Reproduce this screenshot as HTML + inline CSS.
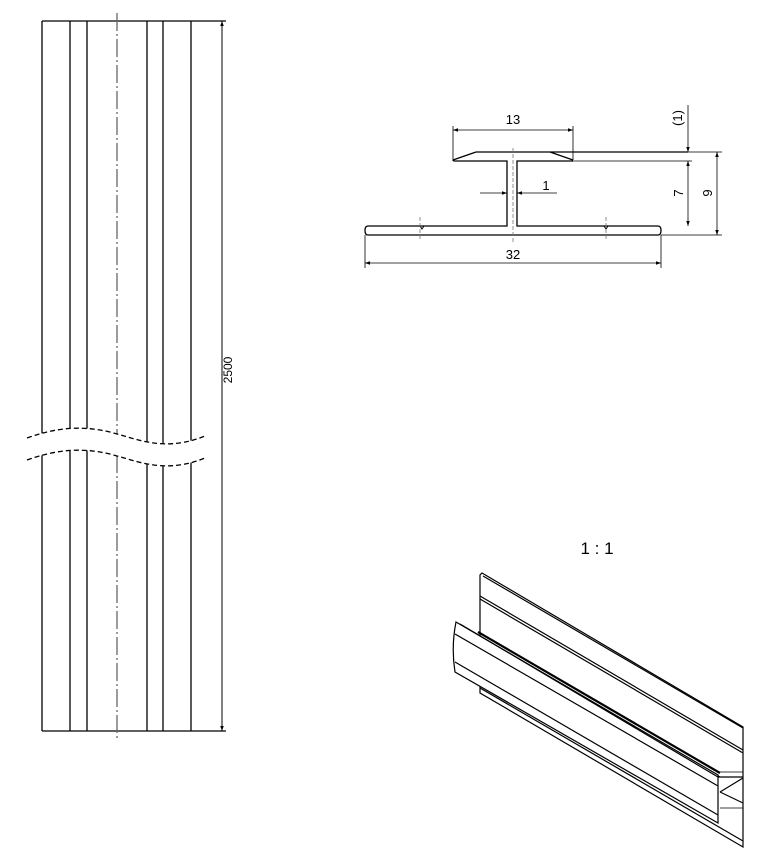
<!DOCTYPE html>
<html><head><meta charset="utf-8"><style>html,body{margin:0;padding:0;background:#fff}svg{display:block}</style></head>
<body>
<svg width="780" height="862" viewBox="0 0 780 862" xmlns="http://www.w3.org/2000/svg" font-family="Liberation Sans, sans-serif">
<defs>
<marker id="a" viewBox="0 0 10 10" refX="10" refY="5" markerWidth="10" markerHeight="5" orient="auto-start-reverse" markerUnits="userSpaceOnUse"><path d="M0,1.5 L10,5 L0,8.5z" fill="#000"/></marker>
</defs>
<g stroke="#000" stroke-width="1.3" fill="none">
<path d="M42,21V731M70,21V731M87,21V731M147,21V731M163,21V731M191,21V731"/>
<path d="M42,21H226M42,731H226"/>
<path d="M117,13V740" stroke="#666" stroke-dasharray="18,3,2,3"/>
<path d="M27,438 C55,428 80,425 110,432 C140,440 165,452 205,436 L205,458 C165,474 140,462 110,454 C80,447 55,450 27,460 Z" fill="#fff" stroke="none"/>
<path d="M27,438 C55,428 80,425 110,432 C140,440 165,452 205,436" stroke-dasharray="5,3"/>
<path d="M27,460 C55,450 80,447 110,454 C140,462 165,474 205,458" stroke-dasharray="5,3"/>
<path d="M222,21V731" stroke-width="1" marker-start="url(#a)" marker-end="url(#a)"/>
</g>
<text x="232" y="370" font-size="12" transform="rotate(-90 232 370)" text-anchor="middle">2500</text>

<g stroke="#000" stroke-width="1.3" fill="none">
<path d="M476,152H688M453,160L476,152M550,152L573,160M453,160Q453,161 455,161H507V226H368Q365,226 365,230.5Q365,235 368,235H658Q661,235 661,230.5Q661,226 658,226H517V161H573"/>
<path d="M420,226l2,3l2,-3M604,226l2,3l2,-3" stroke-width="1"/>
</g>
<g stroke="#000" stroke-width="0.8" fill="none">
<path d="M513,148V242M420,217V240M606,217V240" stroke="#777" stroke-dasharray="4,2"/>
<path d="M453,126V160M573,126V160M573,161H692M661,235H722M688,152H722M365,235V268M661,235V268"/>
<path d="M453,130H573" marker-start="url(#a)" marker-end="url(#a)"/>
<path d="M480,193H507" marker-end="url(#a)"/>
<path d="M557,193H517" marker-end="url(#a)"/>
<path d="M688,105V152" marker-end="url(#a)"/>
<path d="M688,161V226" marker-start="url(#a)" marker-end="url(#a)"/>
<path d="M717,152V235" marker-start="url(#a)" marker-end="url(#a)"/>
<path d="M365,263H661" marker-start="url(#a)" marker-end="url(#a)"/>
</g>
<g font-size="13">
<text x="513" y="124" text-anchor="middle">13</text>
<text x="546" y="190" text-anchor="middle">1</text>
<text x="513" y="259" text-anchor="middle">32</text>
<text x="682" y="118" text-anchor="middle" transform="rotate(-90 682 118)">(1)</text>
<text x="683" y="193" text-anchor="middle" transform="rotate(-90 683 193)">7</text>
<text x="712" y="193" text-anchor="middle" transform="rotate(-90 712 193)">9</text>
</g>

<text x="597" y="554" font-size="17" text-anchor="middle">1 : 1</text>

<!-- isometric -->
<g stroke="#000" stroke-width="1.2" fill="none">
<!-- back plate -->
<path d="M480,575V693L743,847V727L482,573Z" fill="#fff"/>
<path d="M483,576L743,728"/>
<path d="M480,596L743,750M480,599L743,753"/>
<path d="M480,688L743,841"/>
<path d="M743,778L720,792M743,803L720,792"/>
<path d="M743,772L720,772M743,808L720,808" stroke-width="0.8"/>
<!-- web joint -->
<path d="M478,632L720,773" stroke-width="2.2"/>
<path d="M478,636L720,777"/>
<!-- front flange -->
<path d="M456,622L718,775V823L455,672Q451,647 456,622Z" fill="#fff"/>
<path d="M460,624L718,777"/>
<path d="M455,634L718,786"/>
<path d="M455,662L718,815"/>
<path d="M743,777L718,777"/>
</g>
</svg>
</body></html>
